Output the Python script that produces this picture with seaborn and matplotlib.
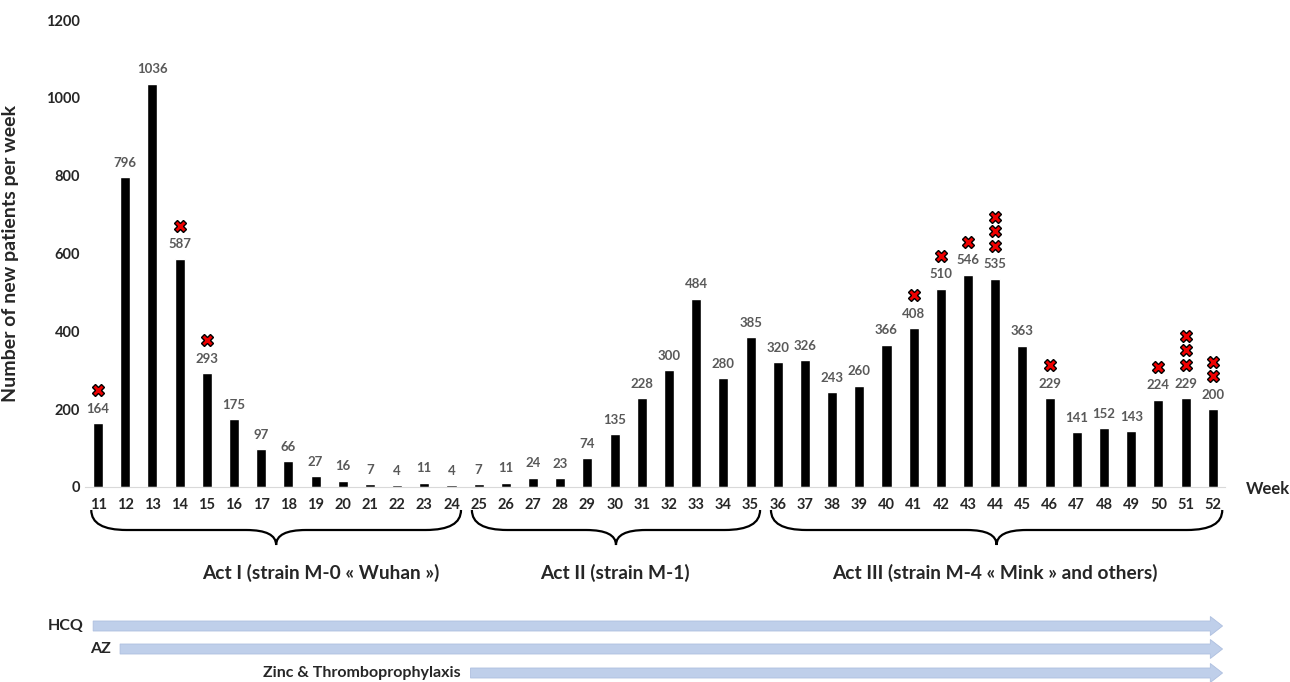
import matplotlib.pyplot as plt
import matplotlib.transforms as mtransforms
import numpy as np
import pandas as pd
import seaborn as sns
from matplotlib.patches import FancyArrow, PathPatch
from matplotlib.path import Path

# Data
weeks = list(range(11, 53))
patients = [164, 796, 1036, 587, 293, 175, 97, 66, 27, 16, 7, 4, 11, 4,
            7, 11, 24, 23, 74, 135, 228, 300, 484, 280, 385,
            320, 326, 243, 260, 366, 408, 510, 546, 535, 363, 229, 141, 152,
            143, 224, 229, 200]
crosses = {11: 1, 14: 1, 15: 1, 41: 1, 42: 1, 43: 1, 44: 3, 46: 1,
           50: 1, 51: 3, 52: 2}
acts = [
    ("Act I (strain M-0 « Wuhan »)", 11, 24),
    ("Act II (strain M-1)", 25, 35),
    ("Act III (strain M-4 « Mink » and others)", 36, 52),
]
treatments = [("HCQ", 11), ("AZ", 12), ("Zinc & Thromboprophylaxis", 25)]

sns.set_style("white")
plt.rcParams["font.family"] = ["Lato", "DejaVu Sans"]
plt.rcParams["font.weight"] = "bold"

df = pd.DataFrame({"Week": [str(w) for w in weeks], "Patients": patients})

fig = plt.figure(figsize=(12.9, 6.82), dpi=100)
ax = fig.add_axes([85 / 1290, 1 - 487 / 682, 1140 / 1290, 467 / 682])
sns.barplot(data=df, x="Week", y="Patients", color="black", width=0.37,
            saturation=1, ax=ax)
ax.set_xlim(-0.48, 41.45)
ax.set_ylim(0, 1200)
ax.set_yticks(np.arange(0, 1201, 200))
ax.tick_params(axis="both", length=0, labelsize=10.5)
ax.tick_params(axis="x", pad=8)
for lab in ax.get_xticklabels() + ax.get_yticklabels():
    lab.set_fontweight("bold")
for side in ("top", "right", "left"):
    ax.spines[side].set_visible(False)
ax.spines["bottom"].set_color("#d9d9d9")
ax.set_xlabel("")
ax.set_ylabel("Number of new patients per week", fontsize=14,
              fontweight="bold")
ax.yaxis.set_label_coords(-0.058, 0.5)

# value labels
for i, v in enumerate(patients):
    ax.annotate(str(v), (i, v), xytext=(0, 6), textcoords="offset points",
                ha="center", va="bottom", fontsize=9.5, color="#595959",
                fontweight="bold")

# red crosses stacked above the labels
for w, n in crosses.items():
    i = weeks.index(w)
    for k in range(n):
        tr = mtransforms.offset_copy(ax.transData, fig=fig,
                                     y=33 + 14.5 * k, units="dots")
        ax.plot(i, patients[i], marker="X", markersize=9,
                markerfacecolor="#ee0000", markeredgecolor="black",
                markeredgewidth=1, transform=tr, clip_on=False)

fig.text(1246 / 1290, 1 - 489 / 682, "Week", fontsize=12, fontweight="bold",
         va="center", ha="left")

# braces below the axis
btr = mtransforms.blended_transform_factory(ax.transData, fig.transFigure)
y_top, y_mid, y_bot = 1 - 510 / 682, 1 - 530 / 682, 1 - 545 / 682
label_x = {0: 8.2, 1: 19.0, 2: 33.0}
for j, (name, w0, w1) in enumerate(acts):
    x0 = weeks.index(w0) - 0.25
    x1 = weeks.index(w1) + 0.35
    xp = (x0 + x1) / 2
    a = 1.3
    b = 1.1
    verts = [(x0, y_top), (x0, y_mid), (x0 + a, y_mid),
             (xp - b, y_mid), (xp, y_mid), (xp, y_bot),
             (xp, y_mid), (xp + b, y_mid),
             (x1 - a, y_mid), (x1, y_mid), (x1, y_top)]
    codes = [Path.MOVETO, Path.CURVE3, Path.CURVE3,
             Path.LINETO, Path.CURVE3, Path.CURVE3,
             Path.CURVE3, Path.CURVE3,
             Path.LINETO, Path.CURVE3, Path.CURVE3]
    fig.patches.append(PathPatch(Path(verts, codes), transform=btr,
                                 facecolor="none", edgecolor="black",
                                 linewidth=1.6, figure=fig))
    fig.text(label_x[j], 1 - 573 / 682, name, transform=btr, ha="center",
             va="center", fontsize=13.8, fontweight="bold")

# treatment arrows
arrow_y = [1 - 626 / 682, 1 - 649 / 682, 1 - 673 / 682]
arrow_x0 = [-0.18, 0.81, 13.7]
x_end = 41.36
for (name, w0), yy, xs in zip(treatments, arrow_y, arrow_x0):
    fig.patches.append(FancyArrow(xs, yy, x_end - xs, 0, width=10 / 682,
                                  head_width=19 / 682, head_length=0.45,
                                  length_includes_head=True, transform=btr,
                                  facecolor="#bfcfea", edgecolor="#aebfdf",
                                  linewidth=0.6, figure=fig))
    fig.text(xs - 0.35, yy, name, transform=btr, ha="right", va="center",
             fontsize=11.5, fontweight="bold")

fig.savefig("out.png", dpi=100)
